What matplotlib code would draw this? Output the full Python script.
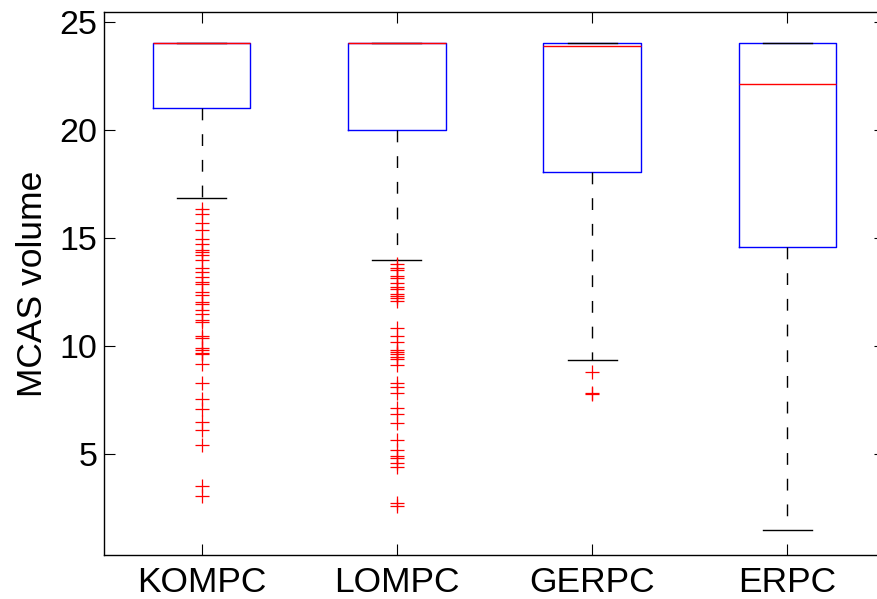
import matplotlib
matplotlib.use('Agg')
import matplotlib.pyplot as plt

plt.rcParams['font.family'] = ['Liberation Sans', 'DejaVu Sans']

# box statistics per method
methods = ['KOMPC', 'LOMPC', 'GERPC', 'ERPC']
q1 = [21.0, 20.0, 18.06, 14.57]
med = [24.0, 24.0, 23.87, 22.10]
q3 = [24.0, 24.0, 24.0, 24.0]
whislo = [16.82, 13.97, 9.32, 1.48]
whishi = [24.0, 24.0, 24.0, 24.0]

# outliers below the lower whisker
fliers_kompc = [16.33, 16.11, 15.67, 15.37, 14.94, 14.72, 14.43, 14.32, 14.20,
                13.95, 13.61, 13.41, 13.19, 12.94, 12.84, 12.47, 12.35, 12.04,
                11.92, 11.65, 11.45, 11.20, 11.10, 10.46, 10.34, 9.91, 9.79,
                9.66, 9.62, 9.15, 8.29, 7.53, 7.08, 6.48, 6.10, 5.42, 3.50, 3.04]
fliers_lompc = [13.78, 13.61, 13.50, 13.24, 13.12, 12.89, 12.70, 12.63, 12.39,
                12.31, 12.19, 12.08, 10.81, 10.45, 10.19, 9.80, 9.69, 9.60,
                9.46, 9.37, 9.11, 8.27, 8.10, 7.80, 7.13, 6.85, 6.44, 5.63,
                5.17, 4.91, 4.79, 4.56, 4.40, 2.73, 2.58]
fliers_gerpc = [8.80, 7.80, 7.75]
fliers_erpc = []
fliers = [fliers_kompc, fliers_lompc, fliers_gerpc, fliers_erpc]

stats = []
for i in range(len(methods)):
    stats.append({'label': methods[i], 'q1': q1[i], 'med': med[i], 'q3': q3[i],
                  'whislo': whislo[i], 'whishi': whishi[i], 'fliers': fliers[i]})

fig = plt.figure(figsize=(8.78, 5.99), dpi=100)
ax = fig.add_axes([104 / 878, 44.3 / 599, 781 / 878, 542.7 / 599])

ax.bxp(stats, widths=0.5, capwidths=0.25,
       boxprops=dict(color='blue', linewidth=1.0),
       medianprops=dict(color='red', linewidth=1.0),
       whiskerprops=dict(color='black', linewidth=1.0, linestyle=(0, (8.5, 10))),
       capprops=dict(color='black', linewidth=1.0),
       flierprops=dict(marker='+', markersize=9.5, markeredgecolor='red',
                       markeredgewidth=0.9, linestyle='none'))

ax.set_xlim(0.5, 4.5)
ax.set_ylim(0.324, 25.45)
ax.set_yticks([5, 10, 15, 20, 25])
ax.set_ylabel('MCAS volume', fontsize=25.5, labelpad=8)

ax.tick_params(axis='both', direction='in', length=8, width=0.8,
               top=True, right=True)
ax.tick_params(axis='y', labelsize=24.5, pad=4.5)
ax.tick_params(axis='x', labelsize=25.5, pad=8)
for sp in ax.spines.values():
    sp.set_linewidth(1.0)

fig.savefig('out.png', dpi=100)
